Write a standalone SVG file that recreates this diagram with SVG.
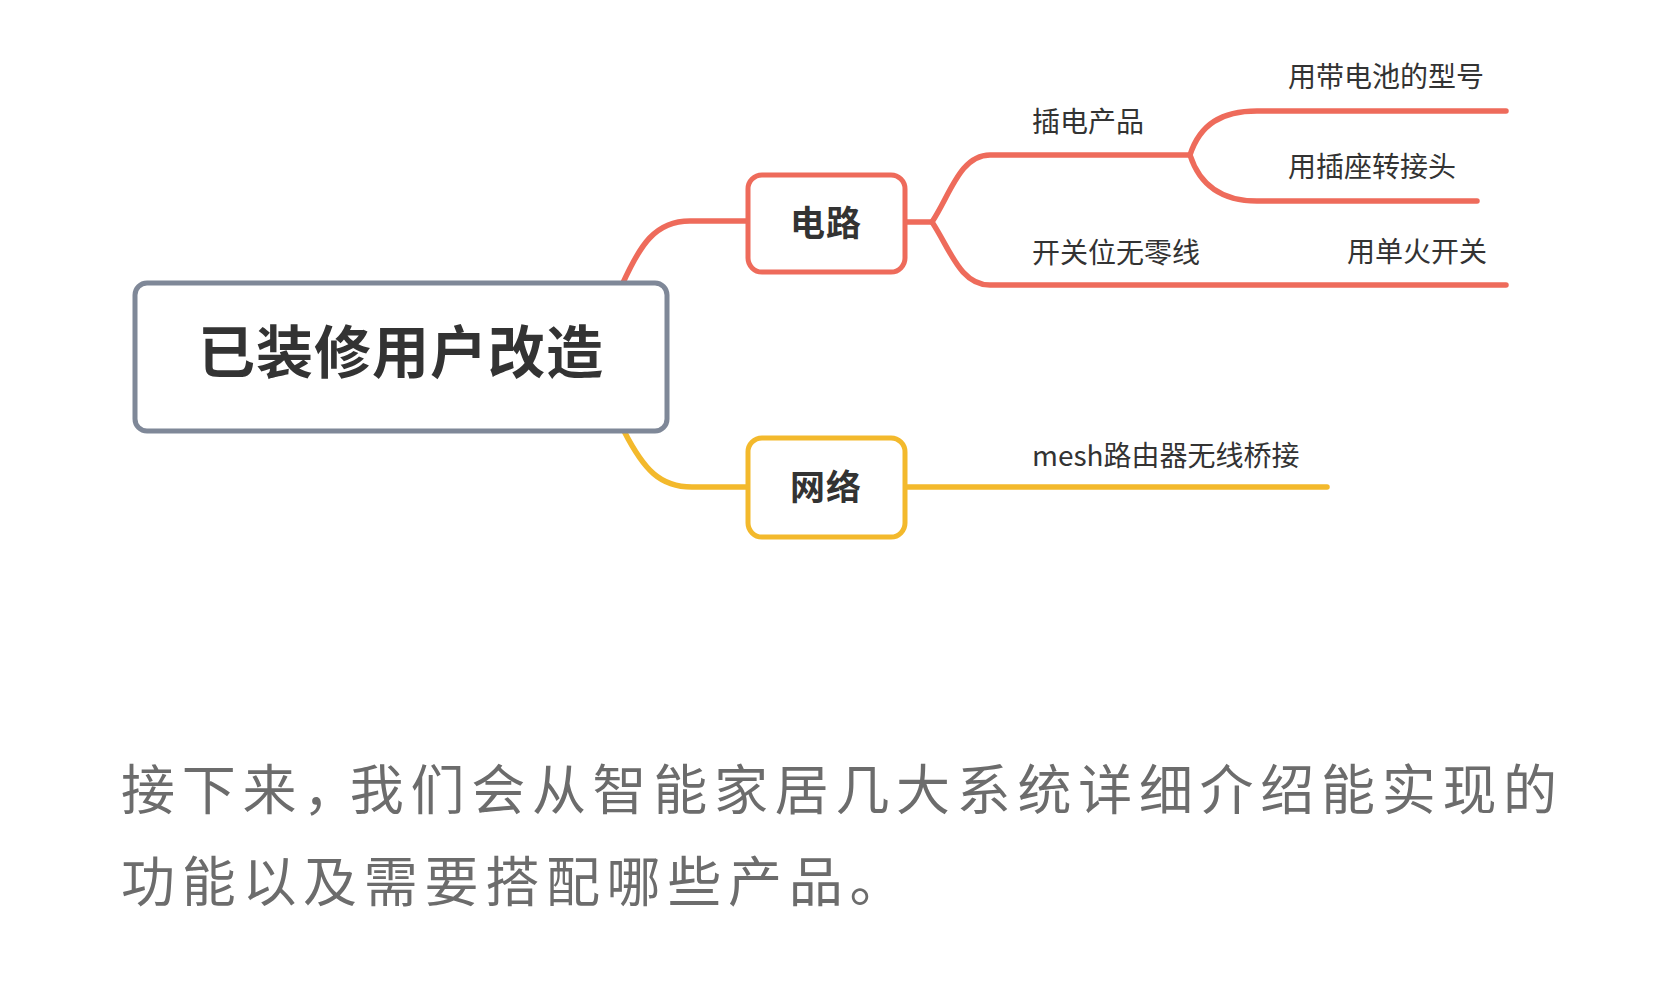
<svg xmlns="http://www.w3.org/2000/svg" width="1667" height="994" viewBox="0 0 1667 994">
<style>
.bg{fill:#ffffff}
.box{fill:#ffffff;stroke-width:5}
.root{stroke:#7f8898}
.red{stroke:#ee6b5b}
.yel{stroke:#f3b92c}
.ln{fill:none;stroke-width:5.5;stroke-linecap:round}
.t{font-family:"Noto Sans CJK SC","Noto Sans",sans-serif;fill:#333333}
.title{font-size:57px;font-weight:bold;text-anchor:middle;letter-spacing:1px}
.main{font-size:35px;font-weight:bold;text-anchor:middle;letter-spacing:1px}
.lbl{font-size:28px}
.para{font-family:"Noto Sans CJK SC","Noto Sans",sans-serif;font-size:54px;fill:#6c6c6c;letter-spacing:6.7px}
</style>
<rect class="bg" x="0" y="0" width="1667" height="994"/>
<g id="connectors">
  <path class="ln red" d="M622,285 C640,245 655,221 690,221 L748,221"/>
  <path class="ln yel" d="M624,431 C644,470 660,487 692,487 L747,487"/>
  <path class="ln red" d="M905,222 L932,222"/>
  <path class="ln red" d="M932,222 C950,195 960,155 990,155 L1190,155"/>
  <path class="ln red" d="M932,222 C950,249 960,285 990,285 L1506,285"/>
  <path class="ln red" d="M1190,155 C1200,124 1222,111 1257,111 L1506,111"/>
  <path class="ln red" d="M1190,155 C1200,186 1222,201 1257,201 L1477,201"/>
  <path class="ln yel" d="M905,487 L1327,487"/>
</g>
<g id="root">
  <rect class="box root" x="135" y="283" width="532" height="148" rx="12"/>
  <text class="t title" x="401" y="373">已装修用户改造</text>
</g>
<g id="node-dianlu">
  <rect class="box red" x="748" y="175" width="157" height="97" rx="14"/>
  <text class="t main" x="826" y="236">电路</text>
</g>
<g id="node-wangluo">
  <rect class="box yel" x="748" y="438" width="157" height="99" rx="14"/>
  <text class="t main" x="826" y="500">网络</text>
</g>
<g id="node-chadian">
  <text class="t lbl" x="1032" y="132">插电产品</text>
</g>
<g id="node-kaiguan">
  <text class="t lbl" x="1032" y="263">开关位无零线</text>
</g>
<g id="node-dianchi">
  <text class="t lbl" x="1288" y="87">用带电池的型号</text>
</g>
<g id="node-chazuo">
  <text class="t lbl" x="1288" y="177">用插座转接头</text>
</g>
<g id="node-danhuo">
  <text class="t lbl" x="1347" y="262">用单火开关</text>
</g>
<g id="node-mesh">
  <text class="t lbl" x="1032" y="466">mesh路由器无线桥接</text>
</g>
<g id="paragraph">
  <text class="para" x="121" y="810">接下来，<tspan dx="-14">我们会从智能家居几大系统详细介绍能实现的</tspan></text>
  <text class="para" x="121" y="902">功能以及需要搭配哪些产品。</text>
</g>
</svg>
